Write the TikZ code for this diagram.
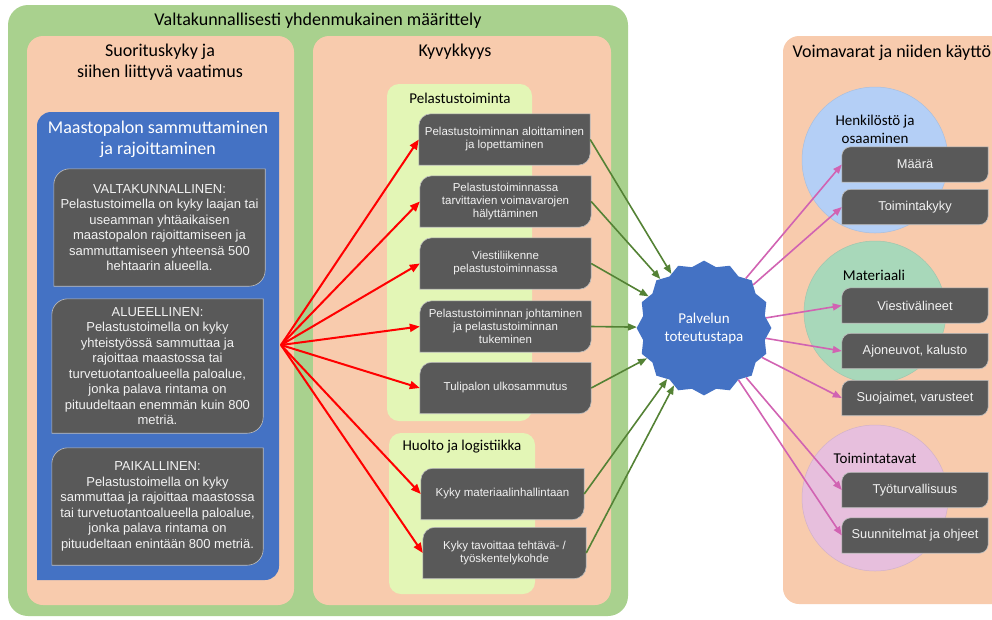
\documentclass[tikz,border=0pt]{standalone}
\usepackage{fontspec}
\setmainfont{Carlito}
\newfontfamily\arialf{Liberation Sans}
\usetikzlibrary{shapes.geometric,arrows.meta,calc}
\definecolor{outergreen}{HTML}{A9D18E}
\definecolor{peach}{HTML}{F8CBAD}
\definecolor{lime}{HTML}{E3F6B6}
\definecolor{mainblue}{HTML}{4472C4}
\definecolor{boxgray}{HTML}{595959}
\definecolor{boxedge}{HTML}{BFBFBF}
\definecolor{arrowgreen}{HTML}{548235}
\definecolor{arrowpink}{HTML}{D163B2}
\definecolor{circblue}{HTML}{B4CFF6}
\definecolor{circgreen}{HTML}{A8D8BA}
\definecolor{circpink}{HTML}{E7BFDD}
\pgfdeclarelayer{back}
\pgfdeclarelayer{mid}
\pgfsetlayers{back,mid,main}
\tikzset{
  darkbox/.style={text=white!95!black, align=center, inner sep=0pt,
    append after command={\pgfextra{\begin{pgfonlayer}{mid}
      \filldraw[fill=boxgray, draw=boxedge, line width=0.6pt]
        (\tikzlastnode.south west) -- ($(\tikzlastnode.north west)+(0,#1)$)
        arc[start angle=180, end angle=270, radius=#1]
        -- (\tikzlastnode.north east) -- ($(\tikzlastnode.south east)+(0,-#1)$)
        arc[start angle=0, end angle=90, radius=#1] -- cycle;
      \end{pgfonlayer}}}},
  darkbox/.default=12
}
\begin{document}
\begin{tikzpicture}[x=1pt, y=-1pt,
    bigtitle/.style={font=\fontsize{18}{21}\selectfont, align=center},
    subtitle/.style={font=\fontsize{15}{18}\selectfont, align=center},
    leftbox/.style={darkbox=16, minimum width=211pt, font=\arialf\fontsize{13}{15.5}\selectfont},
    midbox/.style={darkbox=12, minimum width=171pt, minimum height=51pt, font=\arialf\fontsize{11.5}{13}\selectfont},
    rightbox/.style={darkbox=9, minimum width=146pt, minimum height=35pt, font=\arialf\fontsize{12.8}{15}\selectfont}]
\useasboundingbox (0,0) rectangle (992,619);
\begin{pgfonlayer}{back}
  \fill[outergreen, rounded corners=20pt] (8,5) rectangle (628,616);
  \fill[peach, rounded corners=16pt] (27,36) rectangle (294,605);
  \fill[peach, rounded corners=16pt] (313,36) rectangle (611,605);
  \fill[peach, rounded corners=16pt] (783,36) rectangle (1010,604);
  \fill[lime, rounded corners=12pt] (387,84) rectangle (532,421);
  \fill[lime, rounded corners=12pt] (389,433) rectangle (535,594);
  \fill[mainblue] (37,580) -- (37,126) arc[start angle=180, end angle=270, radius=14]
    -- (279,112) -- (279,566) arc[start angle=0, end angle=90, radius=14] -- cycle;
  \filldraw[fill=circblue, draw=circblue!80!gray, line width=0.5pt] (875,160) circle[radius=73];
  \filldraw[fill=circgreen, draw=circgreen!80!gray, line width=0.5pt] (875,312) circle[radius=71];
  \filldraw[fill=circpink, draw=circpink!80!gray, line width=0.5pt] (875,498) circle[radius=73];
\end{pgfonlayer}

\begin{scope}[every node/.style={bigtitle}]
  \node (yhd) at (318,21) {Valtakunnallisesti yhdenmukainen määrittely};
  \node (suor) at (160,62) {Suorituskyky ja\\siihen liittyvä vaatimus};
  \node (kyv) at (455,52) {Kyvykkyys};
  \node[anchor=west] (voim) at (789,53) {Voimavarat ja niiden käyttö};
  \node[text=white] (maasto) at (158,139) {Maastopalon sammuttaminen\\ja rajoittaminen};
\end{scope}

\begin{scope}[every node/.style={subtitle}]
  \node (pel) at (460,98) {Pelastustoiminta};
  \node (huolto) at (462,447) {Huolto ja logistiikka};
  \node (henk) at (875,129) {Henkilöstö ja\\osaaminen};
  \node (mat) at (874,275) {Materiaali};
  \node (toimt) at (875,458) {Toimintatavat};
\end{scope}

\node[leftbox, minimum height=117pt] (valta) at (159.5,227.5) {VALTAKUNNALLINEN:\\Pelastustoimella on kyky laajan tai\\useamman yhtäaikaisen\\maastopalon rajoittamiseen ja\\sammuttamiseen yhteensä 500\\hehtaarin alueella.};
\node[leftbox, minimum height=134pt] (alue) at (157.5,366) {ALUEELLINEN:\\Pelastustoimella on kyky\\yhteistyössä sammuttaa ja\\rajoittaa maastossa tai\\turvetuotantoalueella paloalue,\\jonka palava rintama on\\pituudeltaan enemmän kuin 800\\metriä.};
\node[leftbox, minimum height=117pt] (paik) at (157.5,506.5) {PAIKALLINEN:\\Pelastustoimella on kyky\\sammuttaa ja rajoittaa maastossa\\tai turvetuotantoalueella paloalue,\\jonka palava rintama on\\pituudeltaan enintään 800 metriä.};

\node[midbox] (aloitus) at (504.5,139.5) {Pelastustoiminnan aloittaminen\\ja lopettaminen};
\node[midbox] (halytys) at (505.5,201.5) {Pelastustoiminnassa\\tarvittavien voimavarojen\\hälyttäminen};
\node[midbox] (viestil) at (505.5,263.5) {Viestiliikenne\\pelastustoiminnassa};
\node[midbox] (johto) at (505.5,326.5) {Pelastustoiminnan johtaminen\\ja pelastustoiminnan\\tukeminen};
\node[midbox] (ulkosam) at (505.5,388) {Tulipalon ulkosammutus};
\node[midbox, minimum width=163pt] (matinh) at (502.5,494) {Kyky materiaalinhallintaan};
\node[midbox, minimum width=163pt] (tavoit) at (504.5,553) {Kyky tavoittaa tehtävä- /\\työskentelykohde};

\node[star, star points=16, star point ratio=0.92, shape border rotate=11.25, minimum size=124pt, inner sep=0pt,
  fill=mainblue, text=white, font=\fontsize{15}{18}\selectfont, align=center] (tapa) at (704,328) {Palvelun\\toteutustapa};

\node[rightbox] (maara) at (915,164.5) {Määrä};
\node[rightbox] (toimkyky) at (915,207) {Toimintakyky};
\node[rightbox] (viestiv) at (915,305.5) {Viestivälineet};
\node[rightbox] (ajon) at (915,351) {Ajoneuvot, kalusto};
\node[rightbox] (suoj) at (915,398) {Suojaimet, varusteet};
\node[rightbox] (tyotur) at (915,490) {Työturvallisuus};
\node[rightbox] (suunn) at (915,535.5) {Suunnitelmat ja ohjeet};

\coordinate (haara) at (281,345);

\begin{scope}[every edge/.style={draw, red, line width=2pt, -{Triangle[length=10pt,width=8pt]}}]
  \path (haara) edge (aloitus.west);
  \path (haara) edge (halytys.west);
  \path (haara) edge (viestil.west);
  \path (haara) edge (johto.west);
  \path (haara) edge (ulkosam.west);
  \path (haara) edge (matinh.west);
  \path (haara) edge (tavoit.west);
\end{scope}

\begin{scope}[every edge/.style={draw, arrowgreen, line width=1.6pt, -{Triangle[length=9pt,width=7pt]}}]
  \path (aloitus.east) edge (tapa);
  \path (halytys.east) edge (tapa);
  \path (viestil.east) edge (tapa);
  \path (johto.east) edge (tapa);
  \path (ulkosam.east) edge (tapa);
  \path (matinh.east) edge (tapa);
  \path (tavoit.east) edge (tapa);
\end{scope}

\begin{scope}[every edge/.style={draw, arrowpink, line width=1.6pt, -{Triangle[length=9pt,width=7pt]}}]
  \path (tapa) edge (maara.west);
  \path (tapa) edge (toimkyky.west);
  \path (tapa) edge (viestiv.west);
  \path (tapa) edge (ajon.west);
  \path (tapa) edge (suoj.west);
  \path (tapa) edge (tyotur.west);
  \path (tapa) edge (suunn.west);
\end{scope}
\end{tikzpicture}
\end{document}
